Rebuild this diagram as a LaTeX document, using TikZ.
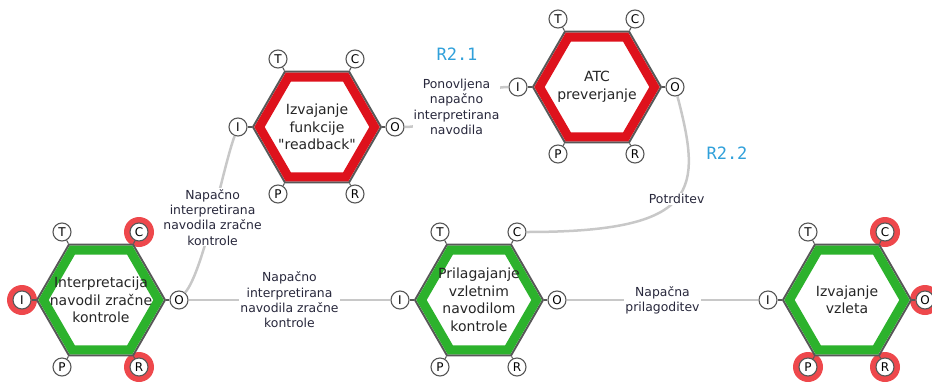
\documentclass[tikz,border=0pt]{standalone}
\usepackage{fontspec}
\setmainfont{DejaVu Sans}[Ligatures=TeXOff]
\newfontfamily\monofont{DejaVu Sans Mono}
\usetikzlibrary{shapes.geometric,backgrounds}

\definecolor{procgreen}{RGB}{44,178,44}
\definecolor{procred}{RGB}{222,18,28}
\definecolor{halored}{RGB}{238,72,76}
\definecolor{edgegray}{RGB}{88,88,88}
\definecolor{linkgray}{RGB}{200,200,200}
\definecolor{labelblue}{RGB}{48,160,218}
\definecolor{labeltext}{RGB}{40,40,60}

\begin{document}
\begin{tikzpicture}[x=1pt,y=-1pt,
  hexa/.style={regular polygon, regular polygon sides=6, minimum size=128pt, inner sep=0pt, draw=edgegray, line width=2pt, fill=white},
  band/.style={regular polygon, regular polygon sides=6, minimum size=115pt, inner sep=0pt, line width=9pt},
  proctext/.style={align=center, text=black!85, font=\fontsize{14}{17.5}\selectfont},
  port/.style={circle, draw=edgegray, line width=1.1pt, fill=white, minimum size=18pt, inner sep=0pt, font=\fontsize{12}{12}\selectfont},
  halo/.style={circle, fill=halored, minimum size=30pt, inner sep=0pt},
  stub/.style={draw=edgegray, line width=1.1pt},
  link/.style={draw=linkgray, line width=2.5pt},
  lbl/.style={align=center, fill=white, inner sep=1pt, text=labeltext, font=\fontsize{12.4}{15.3}\selectfont},
  tag/.style={text=labelblue, font=\monofont\fontsize{17}{17}\selectfont}]

\useasboundingbox (0,0) rectangle (932,381);

% Hexagons with their six ports
\foreach \h/\cx/\cy/\col in {h1/101/300/procgreen, h2/479/300/procgreen, h3/847/300/procgreen, h4/317/127/procred, h5/597/87/procred} {
  \node[hexa] (\h) at (\cx,\cy) {};
  \node[band, draw=\col] (\h-band) at (\h) {};
  \foreach \p/\dx/\dy/\a in {T/-39/-68/120, C/38/-68/60, I/-79/0/180, O/78/0/0, P/-39/67/240, R/38/67/300} {
    \node[port] (\h-\p) at ([shift={(\dx,\dy)}]\h) {\p};
    \draw[stub] (\h-\p) -- (\h.\a);
  }
}

% Red marks behind some ports
\begin{pgfonlayer}{background}
\foreach \p in {h1-C, h1-I, h1-R, h3-C, h3-O, h3-P, h3-R}
  \node[halo] (\p-halo) at (\p) {};
\end{pgfonlayer}

% Texts in the hexagons
\node[proctext] (h1-text) at (h1) {Interpretacija\\navodil zračne\\kontrole};
\node[proctext] (h2-text) at (h2) {Prilagajanje\\vzletnim\\navodilom\\kontrole};
\node[proctext] (h3-text) at (h3) {Izvajanje\\vzleta};
\node[proctext] (h4-text) at (h4) {Izvajanje\\funkcije\\"readback"};
\node[proctext] (h5-text) at (h5) {ATC\\preverjanje};

% Connectors
\draw[link] (h1-O) -- node[lbl] (l1) {Napačno\\interpretirana\\navodila zračne\\kontrole} (h2-I);
\draw[link] (h2-O) -- node[lbl] (l2) {Napačna\\prilagoditev} (h3-I);
\draw[link] (h1-O) .. controls +(25,-30) and +(-15,40) .. (h4-I)
  node[lbl, pos=0.5] (l3) {Napačno\\interpretirana\\navodila zračne\\kontrole};
\draw[link] (h4-O) .. controls +(50,0) and +(-50,0) .. (h5-I)
  node[lbl, pos=0.5] (l4) {Ponovljena\\napačno\\interpretirana\\navodila};
\draw[link] (h5-O) .. controls +(27,103) and +(184,0) .. (h2-C)
  node[lbl, pos=0.5] (l5) {Potrditev};

% Tags
\node[tag] (r21) at (457,54) {R2.1};
\node[tag] (r22) at (727,153) {R2.2};

\end{tikzpicture}
\end{document}
